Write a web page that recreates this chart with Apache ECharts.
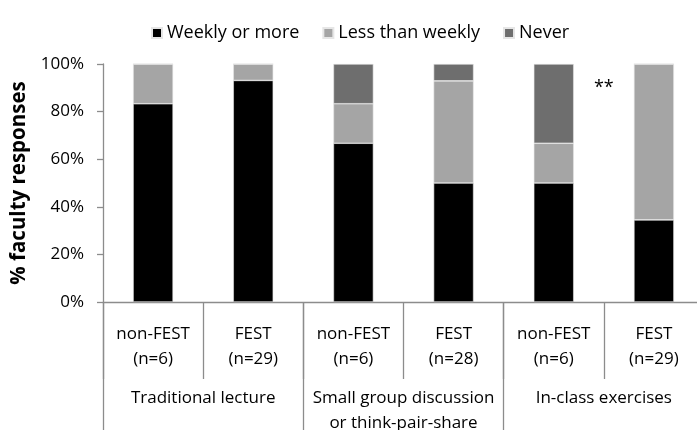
<!DOCTYPE html>
<html>
<head>
<meta charset="utf-8">
<script src="https://cdn.jsdelivr.net/npm/echarts@6/dist/echarts.min.js"></script>
<style>
html,body{margin:0;padding:0;background:#fff;}
#chart{width:697px;height:430px;}
</style>
</head>
<body>
<div id="chart"></div>
<script>
var barLabels = ['non-FEST\n(n=6)', 'FEST\n(n=29)', 'non-FEST\n(n=6)', 'FEST\n(n=28)', 'non-FEST\n(n=6)', 'FEST\n(n=29)'];
var groupLabels = ['Traditional lecture', 'Small group discussion\nor think-pair-share', 'In-class exercises'];
var seriesNames = ['Weekly or more', 'Less than weekly', 'Never'];
var weeklyOrMore = [83.3, 93.1, 66.7, 50.0, 50.0, 34.5];
var lessThanWeekly = [16.7, 6.9, 16.6, 42.9, 16.7, 65.5];
var never = [0, 0, 16.7, 7.1, 33.3, 0];
var yTicks = [0, 20, 40, 60, 80, 100];
var annotation = '**';

var FONT = '"Open Sans", "Liberation Sans", sans-serif';
var AXIS_COLOR = '#8c8c8c';
var colors = ['#000000', '#a5a5a5', '#6e6e6e'];
var seriesData = [weeklyOrMore, lessThanWeekly, never];

var chart = echarts.init(document.getElementById('chart'), null, {renderer: 'canvas'});
var option = {
  animation: false,
  backgroundColor: '#ffffff',
  textStyle: {fontFamily: FONT},
  legend: {
    top: 19,
    left: 146,
    itemWidth: 10,
    itemHeight: 10,
    itemGap: 23,
    icon: 'rect',
    data: seriesNames,
    textStyle: {fontFamily: FONT, fontSize: 18, color: '#000'}
  },
  grid: {left: 103, top: 64, width: 601, height: 238, containLabel: false, outerBoundsMode: 'none'},
  xAxis: [
    {
      type: 'category',
      data: barLabels,
      position: 'bottom',
      axisLine: {show: true, lineStyle: {color: AXIS_COLOR, width: 1.3}},
      axisTick: {show: true, length: 77, lineStyle: {color: AXIS_COLOR, width: 1.3}},
      axisLabel: {margin: 20, fontFamily: FONT, fontSize: 17, color: '#000', lineHeight: 25, interval: 0}
    },
    {
      type: 'category',
      data: groupLabels,
      position: 'bottom',
      axisLine: {show: false},
      axisTick: {show: true, length: 130, lineStyle: {color: AXIS_COLOR, width: 1.3}},
      axisLabel: {margin: 84, fontFamily: FONT, fontSize: 17, color: '#000', lineHeight: 25, interval: 0}
    }
  ],
  yAxis: {
    type: 'value',
    min: yTicks[0],
    max: yTicks[yTicks.length - 1],
    interval: 20,
    name: '% faculty responses',
    nameLocation: 'middle',
    nameRotate: 90,
    nameGap: 66,
    nameTextStyle: {fontFamily: FONT, fontSize: 20.5, fontWeight: 'bold', color: '#000'},
    axisLine: {show: true, lineStyle: {color: AXIS_COLOR, width: 1.3}},
    axisTick: {show: true, length: 6, lineStyle: {color: AXIS_COLOR, width: 1.3}},
    splitLine: {show: false},
    axisLabel: {margin: 19, fontFamily: FONT, fontSize: 17, color: '#000', formatter: '{value}%'}
  },
  series: seriesNames.map(function (name, i) {
    return {
      name: name,
      type: 'bar',
      stack: 'total',
      xAxisIndex: 0,
      barWidth: 40,
      itemStyle: {color: colors[i], borderColor: '#e6e6e6', borderWidth: 0.6},
      data: seriesData[i]
    };
  })
};
chart.setOption(option);

// "**" annotation between the last two bars, placed via the axes' own scales
var pA = chart.convertToPixel({xAxisIndex: 0, yAxisIndex: 0}, [4, 90]);
var pB = chart.convertToPixel({xAxisIndex: 0, yAxisIndex: 0}, [5, 90]);
chart.setOption({
  graphic: [{
    type: 'text',
    x: (pA[0] + pB[0]) / 2,
    y: pA[1],
    style: {text: annotation, fontFamily: FONT, fontSize: 18, fill: '#000', align: 'center', verticalAlign: 'middle'}
  }]
});
</script>
</body>
</html>
